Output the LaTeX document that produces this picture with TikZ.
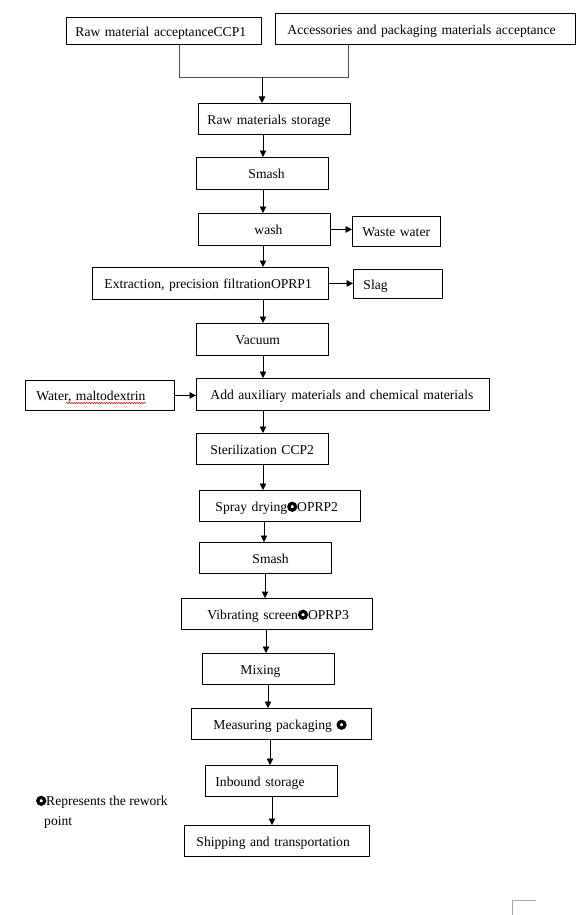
\documentclass[tikz,border=0pt]{standalone}
\usepackage{fontspec}
\setmainfont{Liberation Serif}
\usetikzlibrary{arrows.meta,decorations.pathmorphing}
\newcommand\rwk{\tikz[x=1pt,y=1pt,baseline=-4.7pt]\draw[line width=3.2pt,black] (0,0) circle (3.4pt);}
\tikzset{
  box/.style={draw=black, line width=0.9pt, anchor=north west, align=left,
    inner ysep=0pt, text height=12.5pt, text depth=1.5pt,
    font=\fontsize{13.6pt}{17pt}\selectfont},
  bx/.style n args={3}{box, text width=#1pt, inner xsep=#2pt, minimum height=#3pt},
  arr/.style={draw=black, line width=0.9pt, -{Triangle[length=6.5pt,width=6.5pt]}},
  joinline/.style={draw=black!70, line width=0.9pt},
  txt/.style={font=\fontsize{13.6pt}{17pt}\selectfont, inner sep=0pt}
}
\begin{document}
\begin{tikzpicture}[x=1pt,y=-1pt]
\useasboundingbox (0,0) rectangle (584,915);
% boxes
\node[bx={177}{9}{27}]  (A)  at (66,17)  {\mbox{Raw material acceptanceCCP1}};
\node[bx={276}{12}{31}] (B)  at (275,13) {\mbox{Accessories and packaging materials acceptance}};
\node[bx={134}{9}{31}]  (C)  at (198,103) {\mbox{Raw materials storage}};
\node[bx={28}{52}{32}]  (D)  at (196,157) {\mbox{Smash}};
\node[bx={20}{56}{32}]  (E)  at (198,213) {\mbox{wash}};
\node[bx={68}{10}{30}]  (WW) at (352,216) {\mbox{Waste water}};
\node[bx={212}{12}{32}] (F)  at (92,267)  {\mbox{Extraction, precision filtrationOPRP1}};
\node[bx={69}{10}{29}]  (S)  at (353,269) {\mbox{Slag}};
\node[bx={54}{39}{32}]  (G)  at (196,323) {\mbox{Vacuum}};
\node[bx={265}{14}{32}] (H)  at (196,378) {\mbox{Add auxiliary materials and chemical materials}};
\node[bx={127}{11}{30}] (W)  at (25,380)  {\mbox{Water, maltodextrin}};
\node[bx={104}{14}{31}] (I)  at (196,433) {\mbox{Sterilization CCP2}};
\node[bx={129}{16}{31}] (J)  at (199,490) {\mbox{Spray drying\rwk OPRP2}};
\node[bx={26}{53}{31}]  (K)  at (199,542) {\mbox{Smash}};
\node[bx={139}{26}{31}] (L)  at (181,598) {\mbox{Vibrating screen\rwk OPRP3}};
\node[bx={56}{38}{31}]  (M)  at (202,653) {\mbox{Mixing}};
\node[bx={136}{22}{31}] (N)  at (191,708) {\mbox{Measuring packaging \rwk}};
\node[bx={112}{10}{31}] (O)  at (205,765) {\mbox{Inbound storage}};
\node[bx={161}{12}{31}] (P)  at (184,825) {\mbox{Shipping and transportation}};
% joining lines from the two acceptance boxes
\coordinate (jA) at (179,77);
\coordinate (jB) at (348,77);
\coordinate (jM) at (262,77);
\draw[joinline] (A.south -| jA) -- (jA) -- (jB) -- (B.south -| jB);
\draw[arr] (jM) -- (C.north -| jM);
% main chain
\draw[arr] (C.south -| 263,0) -- (D.north -| 263,0);
\draw[arr] (D.south -| 263,0) -- (E.north -| 263,0);
\draw[arr] (E.south -| 263,0) -- (F.north -| 263,0);
\draw[arr] (F.south -| 263,0) -- (G.north -| 263,0);
\draw[arr] (G.south -| 263,0) -- (H.north -| 263,0);
\draw[arr] (H.south -| 263,0) -- (I.north -| 263,0);
\draw[arr] (I.south -| 263,0) -- (J.north -| 263,0);
\draw[arr] (J.south -| 264,0) -- (K.north -| 264,0);
\draw[arr] (K.south -| 265,0) -- (L.north -| 265,0);
\draw[arr] (L.south -| 266,0) -- (M.north -| 266,0);
\draw[arr] (M.south -| 268,0) -- (N.north -| 268,0);
\draw[arr] (N.south -| 270,0) -- (O.north -| 270,0);
\draw[arr] (O.south -| 272,0) -- (P.north -| 272,0);
% side arrows
\draw[arr] (E.east) -- (WW.west |- E.east);
\draw[arr] (F.east) -- (S.west |- F.east);
\draw[arr] (W.east) -- (H.west |- W.east);
% spell-check squiggle
\draw[red, line width=0.5pt, decorate, decoration={snake, amplitude=0.7pt, segment length=2.5pt}] (66,403) -- (146,403);
% legend
\node[txt, anchor=base west] (leg1) at (36,805.5) {\rwk Represents the rework};
\node[txt, anchor=base west] (leg2) at (44,825) {point};
% page corner mark
\draw[black!35, line width=0.9pt] (536,900) -- (512,900) -- (512,915);
\end{tikzpicture}
\end{document}
